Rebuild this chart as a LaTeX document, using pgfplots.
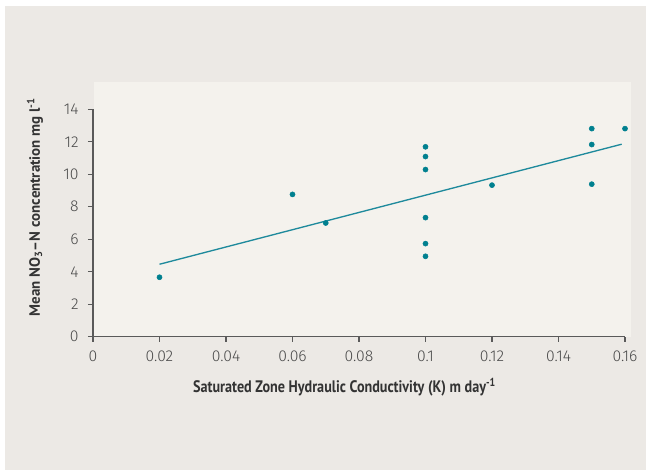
\documentclass[border=0pt]{standalone}
\usepackage{fontspec}
\usepackage{pgfplots}
\pgfplotsset{compat=1.18}
\setmainfont{Fira Sans}
\newfontfamily\tickfont{Fira Sans Light}
\newfontfamily\xlabfont[FakeStretch=0.85]{PT Sans}
\newfontfamily\ylabfont{PT Sans}
\definecolor{outerbg}{HTML}{ECE9E5}
\definecolor{panel}{HTML}{F4F2ED}
\definecolor{dotteal}{HTML}{00808F}
\definecolor{lineteal}{HTML}{1E8A9C}
\definecolor{axisgray}{HTML}{5A5A5A}
\definecolor{txt}{HTML}{333333}
\definecolor{ticktxt}{HTML}{4A4A4A}
\begin{document}
\begin{tikzpicture}[x=0.75pt,y=0.75pt]
\fill[white] (0,0) rectangle (646,470);
\fill[outerbg] (5,0) rectangle (646,464);
\fill[panel] (94,133) rectangle (631,388);
\begin{axis}[
  at={(69.75pt,99.975pt)}, anchor=south west,
  scale only axis, width=399pt, height=170.55pt,
  xmin=0, xmax=0.16, ymin=0, ymax=14,
  clip=false,
  axis x line=bottom, axis y line=left,
  axis line style={-, draw=axisgray, line width=1.1pt},
  tick align=outside, major tick length=3.75pt,
  tick style={draw=axisgray, line width=0.9pt},
  xtick={0,0.02,0.04,0.06,0.08,0.1,0.12,0.14,0.16},
  xticklabels={0,0.02,0.04,0.06,0.08,0.1,0.12,0.14,0.16},
  ytick={0,2,4,6,8,10,12,14},
  yticklabels={0,2,4,6,8,10,12,14},
  ticklabel style={font=\tickfont\fontsize{11.8}{13}\selectfont, text=ticktxt},
  xticklabel style={yshift=-3.5pt},
  yticklabel style={xshift=-3.5pt},
]
\addplot[lineteal, line width=1pt, no marks] coordinates {(0.02,4.46) (0.159,11.85)};
\addplot[only marks, mark=*, mark size=1.9pt, draw=dotteal, fill=dotteal] coordinates {
(0.02,3.66) (0.06,8.76) (0.07,7.0)
(0.1,11.69) (0.1,11.09) (0.1,10.29) (0.1,7.33) (0.1,5.73) (0.1,4.95)
(0.12,9.33) (0.15,12.81) (0.15,11.83) (0.15,9.39) (0.16,12.81)};
\end{axis}
\node[text=txt, font=\xlabfont\bfseries\fontsize{12.5}{14}\selectfont] at (344.5,83) {Saturated Zone Hydraulic Conductivity (K) m day\textsuperscript{-1}};
\node[text=txt, rotate=90, font=\ylabfont\bfseries\fontsize{11.2}{13}\selectfont] at (35,263) {Mean NO\textsubscript{3}–N concentration mg l\textsuperscript{-1}};
\end{tikzpicture}
\end{document}
